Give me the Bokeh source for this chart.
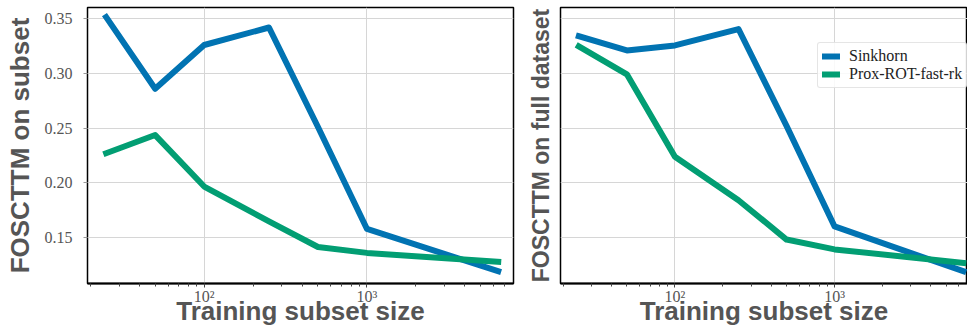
from bokeh.plotting import figure
from bokeh.layouts import row
from bokeh.models import FixedTicker, Legend, LegendItem, NumeralTickFormatter, Range1d
from bokeh.embed import file_html
from bokeh.resources import INLINE

# ---- data ----
sizes = [25, 50, 100, 250, 500, 1000, 6400]
sinkhorn_subset = [0.3515, 0.286, 0.326, 0.342, 0.251, 0.1577, 0.119]
prox_subset = [0.227, 0.2436, 0.1965, 0.1646, 0.1412, 0.1358, 0.1276]
sinkhorn_full = [0.334, 0.321, 0.3256, 0.3406, 0.252, 0.160, 0.119]
prox_full = [0.3247, 0.2992, 0.2238, 0.184, 0.148, 0.139, 0.1267]
y_ticks = [0.15, 0.20, 0.25, 0.30, 0.35]
x_major = [100, 1000]
x_major_labels = {100: "10\u00b2", 1000: "10\u00b3"}
x_minor = [20, 30, 40, 50, 60, 70, 80, 90, 200, 300, 400, 500, 600, 700, 800, 900,
           2000, 3000, 4000, 5000, 6000, 7000, 8000, 9000]
series_names = ["Sinkhorn", "Prox-ROT-fast-rk"]
colors = ["#0173B2", "#029E73"]

SERIF = "Liberation Serif"
SANS = "Liberation Sans"
TXT = "#555555"


def make_fig(width, min_left, min_right, x_end, ylabel, ylabel_size, show_yticks):
    p = figure(width=width, height=328, x_axis_type="log",
               x_range=Range1d(19.2, x_end), y_range=Range1d(0.1078, 0.3603),
               output_backend="svg", toolbar_location=None,
               min_border_left=min_left, min_border_right=min_right,
               min_border_top=7, min_border_bottom=44)
    p.outline_line_color = "black"
    p.outline_line_width = 1.5
    p.background_fill_color = "white"
    p.border_fill_color = "white"

    xa = p.xaxis[0]
    xa.ticker = FixedTicker(ticks=x_major, minor_ticks=x_minor)
    xa.major_label_overrides = x_major_labels
    xa.axis_line_color = "black"
    xa.axis_line_width = 2
    xa.major_tick_in = 0
    xa.major_tick_out = 4
    xa.minor_tick_in = 0
    xa.minor_tick_out = 3
    xa.major_tick_line_color = "#444444"
    xa.minor_tick_line_color = "#444444"
    xa.major_label_text_font = SERIF
    xa.major_label_text_font_size = "16px"
    xa.major_label_text_color = TXT
    xa.major_label_standoff = 0
    xa.axis_label = "Training subset size"
    xa.axis_label_text_font = SANS
    xa.axis_label_text_font_style = "bold"
    xa.axis_label_text_font_size = "26px"
    xa.axis_label_text_color = TXT
    xa.axis_label_standoff = -12

    ya = p.yaxis[0]
    ya.axis_line_color = None
    ya.minor_tick_line_color = None
    if show_yticks:
        ya.ticker = FixedTicker(ticks=y_ticks)
        ya.formatter = NumeralTickFormatter(format="0.00")
        ya.major_tick_in = 0
        ya.major_tick_out = 4
        ya.major_tick_line_color = "#999999"
        ya.major_label_text_font = SERIF
        ya.major_label_text_font_size = "16px"
        ya.major_label_text_color = TXT
        ya.major_label_standoff = 11
        ya.axis_label_standoff = 7
    else:
        ya.ticker = FixedTicker(ticks=[])
        ya.major_tick_line_color = None
        ya.axis_label_standoff = 7
    ya.axis_label = ylabel
    ya.axis_label_text_font = SANS
    ya.axis_label_text_font_style = "bold"
    ya.axis_label_text_font_size = ylabel_size
    ya.axis_label_text_color = TXT

    p.xgrid.ticker = FixedTicker(ticks=x_major)
    p.ygrid.ticker = FixedTicker(ticks=y_ticks)
    p.xgrid.grid_line_color = "#d6d6d6"
    p.ygrid.grid_line_color = "#d6d6d6"
    p.xgrid.grid_line_width = 1
    p.ygrid.grid_line_width = 1
    return p


p1 = make_fig(524, 87, 11, 7943, "FOSCTTM on subset", "26px", True)
p1.line(sizes, sinkhorn_subset, line_width=6, color=colors[0], line_join="round", line_cap="square")
p1.line(sizes, prox_subset, line_width=6, color=colors[1], line_join="round", line_cap="square")

p2 = make_fig(443, 32, 0, 6800, "FOSCTTM on full dataset", "23px", False)
r1 = p2.line(sizes, sinkhorn_full, line_width=6, color=colors[0], line_join="round", line_cap="square")
r2 = p2.line(sizes, prox_full, line_width=6, color=colors[1], line_join="round", line_cap="square")

legend = Legend(items=[LegendItem(label=series_names[0], renderers=[r1]),
                       LegendItem(label=series_names[1], renderers=[r2])],
                location=(257, 195))
legend.border_line_color = "#cccccc"
legend.border_line_width = 1
legend.border_radius = 3
legend.background_fill_alpha = 0.85
legend.label_text_font = SERIF
legend.label_text_font_size = "16px"
legend.label_text_color = "#222222"
legend.glyph_width = 18
legend.glyph_height = 16
legend.label_height = 16
legend.spacing = 0
legend.padding = 4
legend.margin = 0
legend.label_standoff = 9
p2.add_layout(legend)

layout = row(p1, p2, spacing=0)
open("out.html", "w").write(file_html(layout, INLINE))
